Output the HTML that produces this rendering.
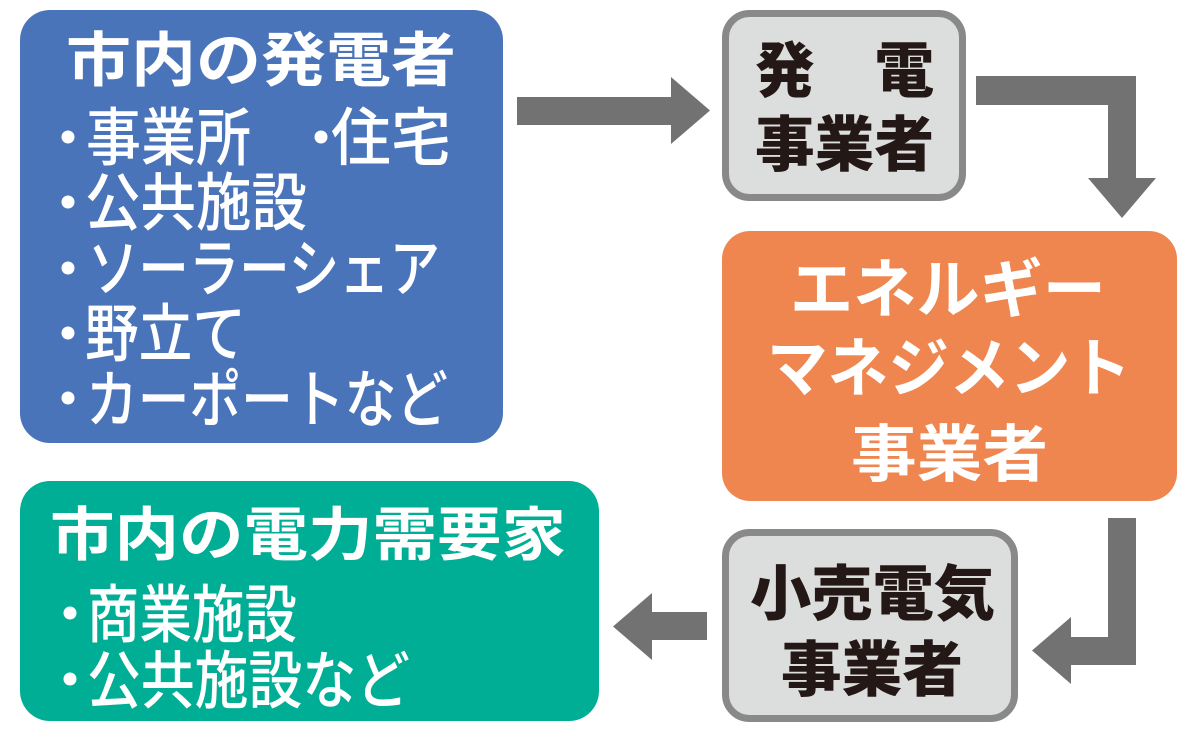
<!DOCTYPE html>
<html>
<head>
<meta charset="utf-8">
<style>
  html, body { margin:0; padding:0; background:#ffffff; }
  body { width:1200px; height:733px; overflow:hidden; }
  svg { display:block; }
  text { font-family: "Liberation Sans", "Noto Sans CJK JP", sans-serif; }
  .w { fill:#ffffff; }
  .k { fill:#231815; }
</style>
</head>
<body>
<svg width="1200" height="733" viewBox="0 0 1200 733" xmlns="http://www.w3.org/2000/svg">
  <!-- Blue box -->
  <rect x="20" y="10" width="483" height="433" rx="30" ry="30" fill="#4a74b9"/>
  <text class="w" x="66" y="81" font-size="59" font-weight="700" textLength="390" lengthAdjust="spacingAndGlyphs">市内の発電者</text>

  <circle cx="68" cy="137" r="6.5" fill="#ffffff"/>
  <text class="w" x="86" y="160" font-size="63" font-weight="500" textLength="165" lengthAdjust="spacingAndGlyphs">事業所</text>
  <circle cx="321" cy="137" r="6.5" fill="#ffffff"/>
  <text class="w" x="331" y="160" font-size="63" font-weight="500" textLength="120" lengthAdjust="spacingAndGlyphs">住宅</text>

  <circle cx="68" cy="202" r="6.5" fill="#ffffff"/>
  <text class="w" x="85" y="225" font-size="63" font-weight="500" textLength="222" lengthAdjust="spacingAndGlyphs">公共施設</text>

  <circle cx="68" cy="268" r="6.5" fill="#ffffff"/>
  <text class="w" x="88" y="291" font-size="63" font-weight="500" textLength="352" lengthAdjust="spacingAndGlyphs">ソーラーシェア</text>

  <circle cx="68" cy="333" r="6.5" fill="#ffffff"/>
  <text class="w" x="85" y="356" font-size="63" font-weight="500" textLength="161" lengthAdjust="spacingAndGlyphs">野立て</text>

  <circle cx="68" cy="398" r="6.5" fill="#ffffff"/>
  <text class="w" x="86" y="422" font-size="63" font-weight="500" textLength="362" lengthAdjust="spacingAndGlyphs">カーポートなど</text>

  <!-- Green box -->
  <rect x="20" y="481" width="579" height="240" rx="30" ry="30" fill="#00ae95"/>
  <text class="w" x="50" y="555" font-size="58" font-weight="700" textLength="516" lengthAdjust="spacingAndGlyphs">市内の電力需要家</text>

  <circle cx="70" cy="613" r="6.5" fill="#ffffff"/>
  <text class="w" x="87" y="637" font-size="63" font-weight="500" textLength="210" lengthAdjust="spacingAndGlyphs">商業施設</text>
  <circle cx="70" cy="679" r="6.5" fill="#ffffff"/>
  <text class="w" x="87" y="703" font-size="63" font-weight="500" textLength="323" lengthAdjust="spacingAndGlyphs">公共施設など</text>

  <!-- Gray box 1 -->
  <rect x="725.5" y="13.5" width="237" height="184" rx="24" ry="24" fill="#dcdddd" stroke="#898989" stroke-width="7"/>
  <text class="k" x="755" y="92" font-size="60" font-weight="900" textLength="179" lengthAdjust="spacingAndGlyphs">発　電</text>
  <text class="k" x="755" y="166" font-size="60" font-weight="900" textLength="179" lengthAdjust="spacingAndGlyphs">事業者</text>

  <!-- Orange box -->
  <rect x="722" y="231" width="455" height="270" rx="28" ry="28" fill="#ef864f"/>
  <text class="w" x="790" y="312" font-size="64" font-weight="700" textLength="316" lengthAdjust="spacingAndGlyphs">エネルギー</text>
  <text class="w" x="767" y="391" font-size="64" font-weight="700" textLength="364" lengthAdjust="spacingAndGlyphs">マネジメント</text>
  <text class="w" x="851" y="476" font-size="62" font-weight="700" textLength="197" lengthAdjust="spacingAndGlyphs">事業者</text>

  <!-- Gray box 2 -->
  <rect x="725.5" y="532.5" width="289" height="186" rx="24" ry="24" fill="#dcdddd" stroke="#898989" stroke-width="7"/>
  <text class="k" x="750" y="615" font-size="60" font-weight="900" textLength="245" lengthAdjust="spacingAndGlyphs">小売電気</text>
  <text class="k" x="781" y="691" font-size="60" font-weight="900" textLength="182" lengthAdjust="spacingAndGlyphs">事業者</text>

  <!-- Arrows -->
  <polygon fill="#727272" points="517,97 671,97 671,77 710,110.5 671,144 671,125 517,125"/>
  <polygon fill="#727272" points="976,76 1136,76 1136,178 1156,178 1122,218 1088,178 1108,178 1108,105 976,105"/>
  <polygon fill="#727272" points="1108,518 1136,518 1136,665 1071,665 1071,684 1032,650.5 1071,617 1071,637 1108,637"/>
  <polygon fill="#727272" points="707,612 707,640 652,640 652,660 613,626.5 652,593 652,612"/>
</svg>
</body>
</html>
